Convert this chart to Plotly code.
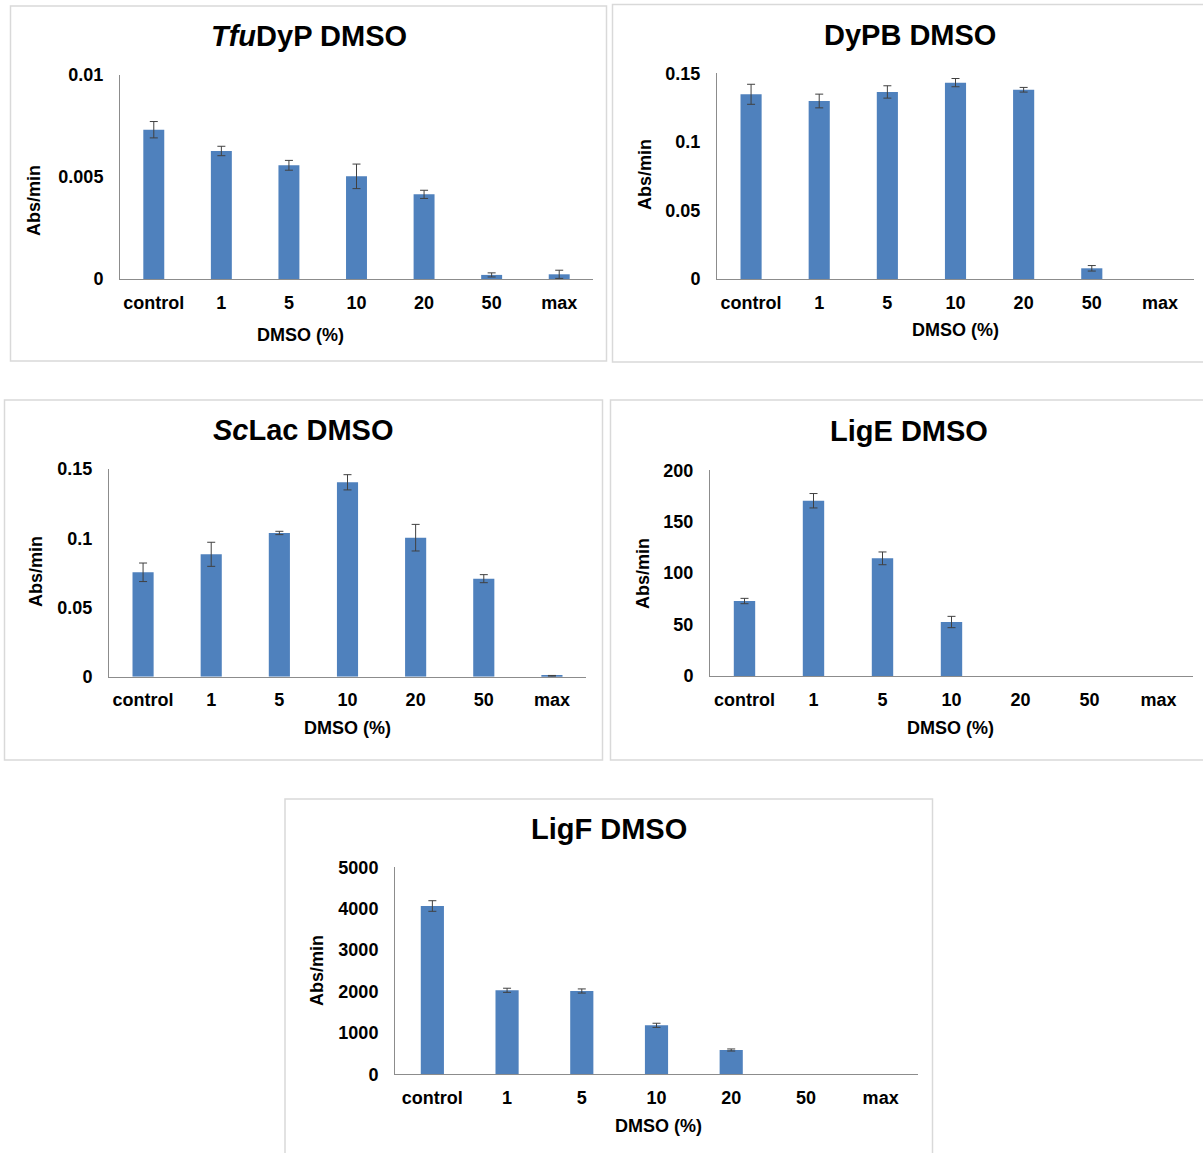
import plotly.graph_objects as go

W, H = 1203, 1153

# DMSO concentrations on the x axis
categories = ["control", "1", "5", "10", "20", "50", "max"]

# Activity (Abs/min) and standard deviations for each enzyme
tfudyp = [0.0073, 0.00626, 0.00556, 0.00502, 0.00414, 0.0002, 0.00023]
tfudyp_err = [0.0004, 0.00023, 0.00024, 0.0006, 0.0002, 0.0001, 0.0002]

dypb = [0.1347, 0.1298, 0.1364, 0.1432, 0.138, 0.0078, 0]
dypb_err = [0.0073, 0.005, 0.0045, 0.003, 0.0017, 0.002, 0]

sclac = [0.0754, 0.0884, 0.1038, 0.1404, 0.1004, 0.0708, 0.0006]
sclac_err = [0.0067, 0.0087, 0.0012, 0.0055, 0.0096, 0.0029, 0.0003]

lige = [72.9, 170.4, 114.4, 52.5, 0, 0, 0]
lige_err = [2.6, 7.0, 6.2, 5.5, 0, 0, 0]

ligf = [4065, 2029, 2012, 1183, 587, 0, 0]
ligf_err = [128, 50, 50, 50, 25, 0, 0]

# Y tick labels per panel
ticks_tfudyp = [0, 0.005, 0.01]
labels_tfudyp = ["0", "0.005", "0.01"]
ticks_small = [0, 0.05, 0.1, 0.15]
labels_small = ["0", "0.05", "0.1", "0.15"]
ticks_lige = [0, 50, 100, 150, 200]
labels_lige = ["0", "50", "100", "150", "200"]
ticks_ligf = [0, 1000, 2000, 3000, 4000, 5000]
labels_ligf = ["0", "1000", "2000", "3000", "4000", "5000"]

titles = ["<i>Tfu</i>DyP DMSO", "DyPB DMSO", "<i>Sc</i>Lac DMSO", "LigE DMSO", "LigF DMSO"]

FONT = "Liberation Sans, Arial, sans-serif"
BAR = "#4f81bd"
AXIS = "#8c8c8c"
BORDER = "#d9d9d9"


def px(x):
    return x / W


def py(y):
    return 1 - y / H


panels = [
    # values, errors, yticks, ylabels, plot box (x0, x1, ytop, ybottom), frame box, title pos, ytitle pos, xtitle pos
    dict(v=tfudyp, e=tfudyp_err, tv=ticks_tfudyp, tt=labels_tfudyp, ymax=0.01,
         box=(120, 593, 74.5, 279), frame=(10.5, 606.5, 6, 361),
         tpos=(309, 36), ypos=(34, 201), xpos=(300, 335)),
    dict(v=dypb, e=dypb_err, tv=ticks_small, tt=labels_small, ymax=0.15,
         box=(717, 1194, 73.3, 279), frame=(612.5, 1206, 4.5, 362),
         tpos=(910, 35), ypos=(645, 175), xpos=(955, 330)),
    dict(v=sclac, e=sclac_err, tv=ticks_small, tt=labels_small, ymax=0.15,
         box=(109, 586, 469, 676.7), frame=(4.5, 602.5, 400, 760),
         tpos=(303, 430), ypos=(36, 572), xpos=(347, 728)),
    dict(v=lige, e=lige_err, tv=ticks_lige, tt=labels_lige, ymax=200,
         box=(710, 1193, 470.3, 676), frame=(610.5, 1206, 400, 760),
         tpos=(909, 431), ypos=(643, 574), xpos=(951, 728)),
    dict(v=ligf, e=ligf_err, tv=ticks_ligf, tt=labels_ligf, ymax=5000,
         box=(395, 918, 867.3, 1074.3), frame=(285, 932.5, 799, 1165),
         tpos=(609, 829), ypos=(317, 971), xpos=(658, 1126)),
]

fig = go.Figure()
shapes = []
annotations = []

for i, p in enumerate(panels):
    n = "" if i == 0 else str(i + 1)
    xa, ya = "x" + n, "y" + n
    fig.add_trace(go.Bar(x=categories, y=p["v"], marker=dict(color=BAR, line=dict(width=0)),
                         xaxis=xa, yaxis=ya, showlegend=False))
    # error bars only where a deviation was measured
    ex = [c for c, e in zip(categories, p["e"]) if e > 0]
    ey = [v for v, e in zip(p["v"], p["e"]) if e > 0]
    ee = [e for e in p["e"] if e > 0]
    fig.add_trace(go.Scatter(x=ex, y=ey, mode="markers", marker=dict(size=1, opacity=0),
                             error_y=dict(type="data", array=ee, color="#404040", thickness=1, width=4),
                             xaxis=xa, yaxis=ya, showlegend=False, hoverinfo="skip"))
    x0, x1, yt, yb = p["box"]
    fig.update_layout(**{
        "xaxis" + n: dict(domain=[px(x0), px(x1)], anchor=ya, type="category",
                          range=[-0.5, 6.5], showline=True, linecolor=AXIS, linewidth=1,
                          showgrid=False, zeroline=False, ticks="", ticklabelstandoff=7,
                          automargin=False,
                          tickfont=dict(family=FONT, size=18, color="black", weight="bold"),
                          fixedrange=True),
        "yaxis" + n: dict(domain=[py(yb), py(yt)], anchor=xa, range=[0, p["ymax"]],
                          showline=True, linecolor=AXIS, linewidth=1, showgrid=False,
                          zeroline=False, ticks="", tickvals=p["tv"], ticktext=p["tt"],
                          ticklabelstandoff=12, automargin=False,
                          tickfont=dict(family=FONT, size=18, color="black", weight="bold"),
                          fixedrange=True),
    })
    fx0, fx1, fy0, fy1 = p["frame"]
    shapes.append(dict(type="rect", xref="paper", yref="paper",
                       x0=px(fx0), x1=px(fx1), y0=py(fy1), y1=py(fy0),
                       line=dict(color=BORDER, width=1.5), fillcolor="rgba(0,0,0,0)", layer="below"))
    annotations.append(dict(text="<b>" + titles[i] + "</b>", x=px(p["tpos"][0]), y=py(p["tpos"][1]),
                            xref="paper", yref="paper", showarrow=False, xanchor="center", yanchor="middle",
                            font=dict(family=FONT, size=29, color="black")))
    annotations.append(dict(text="<b>Abs/min</b>", x=px(p["ypos"][0]), y=py(p["ypos"][1]),
                            xref="paper", yref="paper", showarrow=False, textangle=-90,
                            xanchor="center", yanchor="middle",
                            font=dict(family=FONT, size=18, color="black")))
    annotations.append(dict(text="<b>DMSO (%)</b>", x=px(p["xpos"][0]), y=py(p["xpos"][1]),
                            xref="paper", yref="paper", showarrow=False,
                            xanchor="center", yanchor="middle",
                            font=dict(family=FONT, size=18, color="black")))

fig.update_layout(width=W, height=H, margin=dict(l=0, r=0, t=0, b=0, autoexpand=False),
                  paper_bgcolor="white", plot_bgcolor="white", bargap=0.69,
                  shapes=shapes, annotations=annotations)

fig.write_html("out.html", config={"displayModeBar": False})
